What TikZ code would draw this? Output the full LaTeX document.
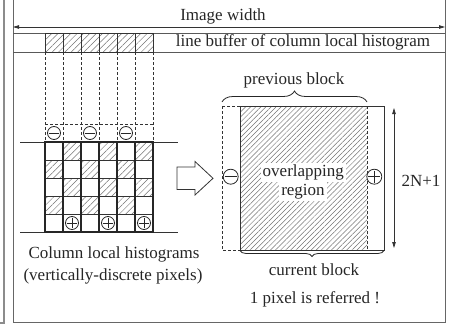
\documentclass[tikz,border=0pt]{standalone}
\usepackage{fontspec}
\setmainfont{Liberation Serif}
\usetikzlibrary{arrows.meta,patterns.meta,decorations.pathreplacing,calc}
\begin{document}
\begin{tikzpicture}[x=1pt,y=-1pt,
  lbl/.style={font=\fontsize{17}{20}\selectfont, inner sep=0pt, text=black!85},
  frame/.style={draw=black!60, line width=1pt},
  ln/.style={draw=black!80, line width=0.8pt},
  hatch/.style={pattern={Lines[angle=45,distance=4.5pt,line width=0.5pt]}, pattern color=black!55},
  densehatch/.style={pattern={Lines[angle=45,distance=3.6pt,line width=0.5pt]}, pattern color=black!55},
  dsh/.style={draw=black!80, line width=0.8pt, dash pattern=on 3pt off 2pt},
  signc/.style={circle, draw=black!85, fill=white, line width=0.8pt, inner sep=0pt},
  minusc/.style={signc, path picture={\draw[line width=0.8pt,black!85] ([xshift=1.5pt]path picture bounding box.west) -- ([xshift=-1.5pt]path picture bounding box.east);}},
  plusc/.style={signc, path picture={\draw[line width=0.8pt,black!85] ([xshift=1.5pt]path picture bounding box.west) -- ([xshift=-1.5pt]path picture bounding box.east) ([yshift=-1.5pt]path picture bounding box.north) -- ([yshift=1.5pt]path picture bounding box.south);}},
  tip/.style={-{Triangle[length=6pt,width=3.5pt]}},
  brc/.style={decorate, draw=black!85, line width=0.8pt}
]
\useasboundingbox (0,0) rectangle (456,327);
% outer frames
\draw[draw=black!45, line width=1.5pt] (4,0) -- (4,323) -- (0,323);
\draw[frame] (13,0) -- (13,322) -- (445,322) -- (445,0);
% image width
\coordinate (iwl) at (13,27);
\coordinate (iwr) at (445,27);
\draw[ln, {Triangle[length=6pt,width=3.5pt]}-{Triangle[length=6pt,width=3.5pt]}] (iwl) -- (iwr);
\node[lbl, anchor=base] (iw) at (223,20) {Image width};
% line buffer row
\draw[ln, draw=black!65] (13,33) -- (445,33) (13,52) -- (445,52);
\foreach \x in {45,63,81,99,117,135} \draw[ln, hatch] (\x,33) rectangle ++(18,19);
\node[lbl, anchor=base] (lb) at (303,46.5) {line buffer of column local histogram};
% dashed guides
\foreach \x in {45,63,81,99,117,135,153} \draw[dsh] (\x,52) -- (\x,142);
\draw[dsh] (45,124) -- (153,124);
% grid
\foreach \x/\y in {63/142,99/142,135/142,45/160,81/160,117/160,63/178,99/178,135/178,45/196,81/196,117/196}
  \fill[hatch] (\x,\y) rectangle ++(18,18);
\foreach \y in {160,178,196,214} \draw[ln] (45,\y) -- (153,\y);
\draw[ln] (20,142) -- (178,142) (20,232) -- (178,232);
\foreach \x in {45,63,81,99,117,135,153} \draw[draw=black!85, line width=1.8pt] (\x,142) -- (\x,232);
\draw[draw=black!85, line width=1.5pt] (45,142) rectangle (153,232);
\node[minusc, minimum size=13pt] (m1) at (54,133) {};
\node[minusc, minimum size=13pt] (m2) at (90,133) {};
\node[minusc, minimum size=13pt] (m3) at (126,133) {};
\node[plusc, minimum size=13pt] (p1) at (72,223) {};
\node[plusc, minimum size=13pt] (p2) at (108,223) {};
\node[plusc, minimum size=13pt] (p3) at (144,223) {};
\node[lbl, anchor=base] (c1) at (114,258.5) {Column local histograms};
\node[lbl, anchor=base] (c2) at (113,280) {(vertically-discrete pixels)};
% hollow arrow
\draw[ln, fill=white] (177,167) -- (195,167) -- (195,161.5) -- (213,178.3) -- (195,195) -- (195,189.5) -- (177,189.5) -- cycle;
% blocks
\fill[densehatch] (240,106) rectangle (367,250);
\draw[dsh] (222,106) rectangle (367,250);
\draw[ln] (240,106) rectangle (384,250);
\node[lbl, fill=white, inner sep=2pt, anchor=base] (ov1) at (303.3,176.5) {overlapping};
\node[lbl, fill=white, inner sep=2pt, anchor=base] (ov2) at (303,195) {region};
\node[minusc, minimum size=15pt] (bm) at (230.7,176.7) {};
\node[plusc, minimum size=15pt] (bp) at (374.3,176.7) {};
% braces
\coordinate (pb1) at (222,102);
\coordinate (pb2) at (367,102);
\draw[brc, decoration={brace, amplitude=11pt}] (pb1) -- (pb2);
\node[lbl, anchor=base] (pbl) at (294,84) {previous block};
\coordinate (cb1) at (384,250.5);
\coordinate (cb2) at (240,250.5);
\draw[brc, decoration={brace, amplitude=6pt}] (cb1) -- (cb2);
\node[lbl, anchor=base] (cbl) at (314,275) {current block};
\node[lbl, anchor=base] (ref) at (315,303.3) {1 pixel is referred !};
% 2N+1
\coordinate (nt) at (394,108);
\coordinate (nb) at (394,248);
\draw[ln, {Triangle[length=6pt,width=3.5pt]}-{Triangle[length=6pt,width=3.5pt]}] (nt) -- (nb);
\node[lbl, anchor=base] (n2) at (421,186.5) {2N+1};
\end{tikzpicture}
\end{document}
